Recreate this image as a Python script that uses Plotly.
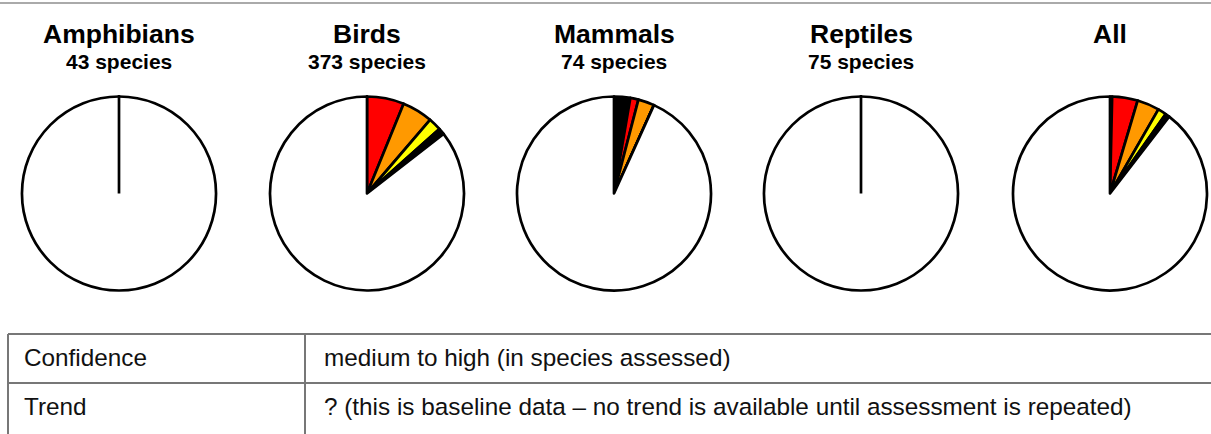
import plotly.graph_objects as go

W, H = 1211, 434

# ---- data ----
groups = ["Amphibians", "Birds", "Mammals", "Reptiles", "All"]
show_count = [True, True, True, True, False]
categories = ["Extinct", "Critically Endangered", "Endangered", "Vulnerable",
              "Data Deficient", "Least Concern"]
colors = ["#000000", "#ff0000", "#ff9900", "#ffff00", "#000000", "#ffffff"]

amphibians = [0, 0, 0, 0, 0, 43]
birds = [0, 23, 19, 8, 4, 319]
mammals = [2, 1, 2, 0, 0, 69]
reptiles = [0, 0, 0, 0, 0, 75]
all_species = [2, 24, 21, 8, 4, 506]
series = [amphibians, birds, mammals, reptiles, all_species]

table_labels = ["Confidence", "Trend"]
table_values = ["medium to high (in species assessed)",
                "? (this is baseline data \u2013 no trend is available until assessment is repeated)"]

# ---- layout geometry (pixels) ----
centers_x = [119, 367, 614, 861, 1110]
center_y = 193.5
radius = 97

fig = go.Figure()
annotations = []
shapes = []
for g, vals, cx, sc in zip(groups, series, centers_x, show_count):
    fig.add_trace(go.Pie(
        values=vals, labels=categories, sort=False, direction="clockwise",
        rotation=0, textinfo="none", showlegend=False,
        marker=dict(colors=colors, line=dict(color="black", width=2.7)),
        domain=dict(x=[(cx - radius) / W, (cx + radius) / W],
                    y=[(H - center_y - radius) / H, (H - center_y + radius) / H]),
    ))
    # a single full slice still shows its start border (radius to 12 o'clock)
    if sum(1 for v in vals if v > 0) == 1:
        shapes.append(dict(type="line", xref="paper", yref="paper",
                           x0=cx / W, x1=cx / W,
                           y0=1 - center_y / H, y1=1 - (center_y - radius) / H,
                           line=dict(color="black", width=2.7)))
    annotations.append(dict(
        text=g, x=cx / W, y=1 - 34 / H, xref="paper", yref="paper",
        xanchor="center", yanchor="middle", showarrow=False,
        font=dict(family="Liberation Sans, Arial", size=26.5, color="black", weight="bold")))
    if sc:
        annotations.append(dict(
            text=f"{sum(vals)} species", x=cx / W, y=1 - 62 / H, xref="paper", yref="paper",
            xanchor="center", yanchor="middle", showarrow=False,
            font=dict(family="Liberation Sans, Arial", size=21, color="black", weight="bold")))

# table
row_tops = [334, 383]
row_h = 49
col_x = [22, 322]
tfont = dict(family="Liberation Sans, Arial", size=24.3, color="#111111")
for i, (lab, val) in enumerate(zip(table_labels, table_values)):
    yc = row_tops[i] + row_h / 2 - 1
    annotations.append(dict(text=lab, x=col_x[0] / W, y=1 - yc / H, xref="paper", yref="paper",
                            xanchor="left", yanchor="middle", showarrow=False, font=tfont))
    annotations.append(dict(text=val, x=col_x[1] / W, y=1 - yc / H, xref="paper", yref="paper",
                            xanchor="left", yanchor="middle", showarrow=False, font=tfont))

line_col = "#777777"
shapes += [
    dict(type="line", xref="paper", yref="paper", x0=0, x1=1, y0=1 - 3 / H, y1=1 - 3 / H,
         line=dict(color="#aaaaaa", width=2)),
    dict(type="line", xref="paper", yref="paper", x0=8 / W, x1=1, y0=1 - 334 / H, y1=1 - 334 / H,
         line=dict(color=line_col, width=2)),
    dict(type="line", xref="paper", yref="paper", x0=8 / W, x1=1, y0=1 - 383 / H, y1=1 - 383 / H,
         line=dict(color=line_col, width=2)),
    dict(type="line", xref="paper", yref="paper", x0=8 / W, x1=8 / W, y0=1 - 334 / H, y1=0,
         line=dict(color=line_col, width=2)),
    dict(type="line", xref="paper", yref="paper", x0=305 / W, x1=305 / W, y0=1 - 334 / H, y1=0,
         line=dict(color=line_col, width=2)),
]

fig.update_layout(
    width=W, height=H, margin=dict(l=0, r=0, t=0, b=0),
    paper_bgcolor="white", plot_bgcolor="white",
    annotations=annotations, shapes=shapes,
)

fig.write_html("out.html", config={"displayModeBar": False},
               post_script="document.body.style.margin='0';document.body.style.overflow='hidden';")
